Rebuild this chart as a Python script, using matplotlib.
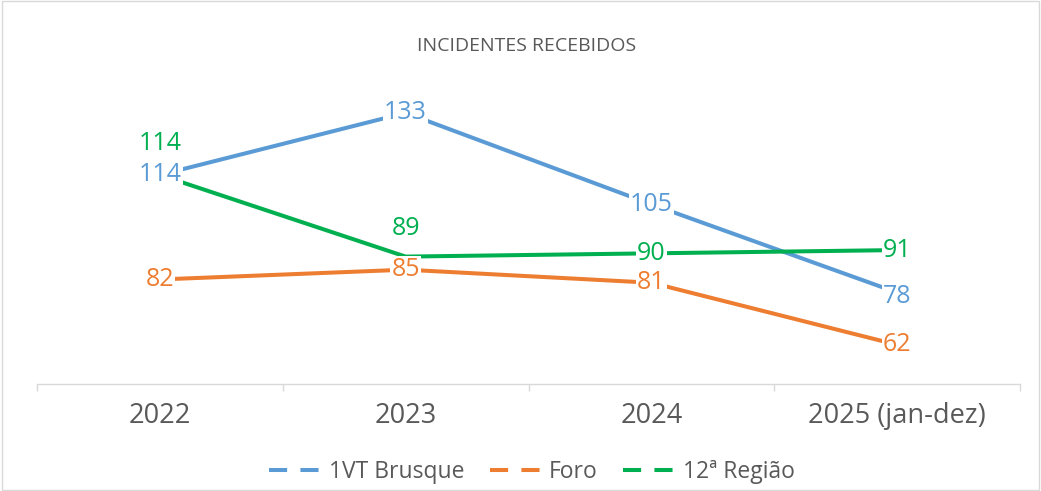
import matplotlib.pyplot as plt
from matplotlib.lines import Line2D
from matplotlib.patches import Rectangle

plt.rcParams['font.family'] = ['Open Sans', 'DejaVu Sans']

anos = ['2022', '2023', '2024', '2025 (jan-dez)']
brusque = [114, 133, 105, 78]
foro = [82, 85, 81, 62]
regiao = [114, 89, 90, 91]

nomes = ['1VT Brusque', 'Foro', '12ª Região']
cores = ['#5B9BD5', '#ED7D31', '#00B050']
valores = [brusque, foro, regiao]

# label nudges in pixels (positive = up) where labels would collide
nudge = {(2, 0): 31, (2, 1): 28, (0, 3): -4}

W, H = 1041, 491
fig = plt.figure(figsize=(W / 100, H / 100), dpi=100)
ax = fig.add_axes([37 / W, (H - 384) / H, 983 / W, 294 / H])

x = list(range(len(anos)))
for i, (nome, vals, cor) in enumerate(zip(nomes, valores, cores)):
    ax.plot(x, vals, color=cor, lw=2.9, solid_capstyle='butt', zorder=2 + i)

for i, (vals, cor) in enumerate(zip(valores, cores)):
    for j, v in enumerate(vals):
        dy = nudge.get((i, j), 0) / 100 * 72
        ax.annotate(str(v), (j, v), xytext=(0, dy), textcoords='offset points',
                    ha='center', va='center', fontsize=18, color=cor, zorder=10,
                    bbox=dict(boxstyle='square,pad=0.05', fc='white', ec='none'))

ax.set_xlim(-0.5, 3.5)
ax.set_ylim(50, 140)
ax.set_xticks(x, anos)
ax.set_xticks([-0.5, 0.5, 1.5, 2.5, 3.5], minor=True)
ax.tick_params(axis='x', which='major', length=0, pad=13, labelsize=19.5, labelcolor='#595959')
ax.tick_params(axis='x', which='minor', length=5, color='#D9D9D9', width=1)
ax.set_yticks([])
for s in ['top', 'left', 'right']:
    ax.spines[s].set_visible(False)
ax.spines['bottom'].set_color('#D9D9D9')
ax.spines['bottom'].set_linewidth(1)

fig.text(527 / W, 1 - 46 / H, 'INCIDENTES RECEBIDOS', ha='center', va='center',
         fontsize=14, color='#595959')

handles = [Line2D([], [], color=c, lw=2.9, linestyle=(0, (4.5, 3.3))) for c in cores]
fig.legend(handles, nomes, loc='center', bbox_to_anchor=(532 / W, 1 - 472 / H), ncol=3,
           frameon=False, fontsize=16.5, labelcolor='#595959', handlelength=2.4,
           handletextpad=0.2, columnspacing=1.1)

fig.patches.append(Rectangle((0.002, 0.002), 0.996, 0.996, transform=fig.transFigure,
                             fill=False, edgecolor='#D9D9D9', lw=1))

fig.savefig('out.png', dpi=100)
